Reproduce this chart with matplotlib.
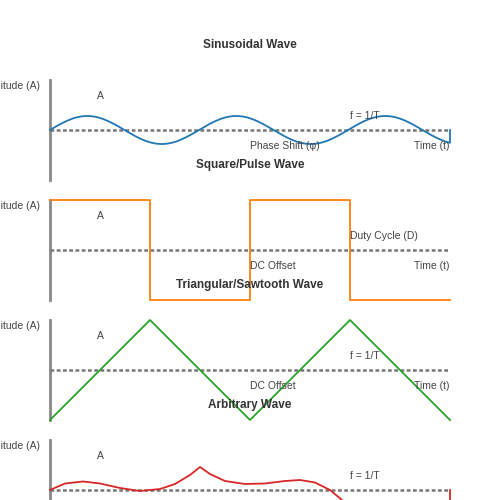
import numpy as np
from matplotlib import pyplot as plt

plt.rcParams['font.family'] = ['Liberation Sans', 'DejaVu Sans']

titles = ["Sinusoidal Wave", "Square/Pulse Wave", "Triangular/Sawtooth Wave", "Arbitrary Wave"]
colors = ["#1f77b4", "#ff7f0e", "#2ca02c", "#d62728"]
top_labels = ["f = 1/T", "Duty Cycle (D)", "f = 1/T", "f = 1/T"]
mid_labels = ["Phase Shift (φ)", "DC Offset", "DC Offset", ""]

# sine wave: time in periods, amplitude
sine_t = np.linspace(0, 8, 161)
sine_y = 0.28 * np.sin(2 * np.pi * sine_t / 2.98)
sine_t = np.append(sine_t, 8)
sine_y = np.append(sine_y, 0)

square_t = [0, 2, 2, 4, 4, 6, 6, 8]
square_y = [1, 1, -1, -1, 1, 1, -1, -1]

tri_t = [0, 2, 4, 6, 8]
tri_y = [-1, 1, -1, 1, -1]

arb_t = [0, 0.3, 0.66, 1.0, 1.4, 1.8, 2.2, 2.5, 2.8, 3.0, 3.2, 3.5, 3.9, 4.3, 4.7, 5.0, 5.3, 5.6, 5.9, 6.2, 6.6, 7.0, 7.4, 7.8, 8.0, 8.0]
arb_y = [0, 0.13, 0.17, 0.13, 0.04, -0.02, 0.02, 0.12, 0.3, 0.46, 0.32, 0.18, 0.12, 0.13, 0.18, 0.2, 0.15, 0.0, -0.25, -0.5, -0.42, -0.45, -0.55, -0.7, -0.65, 0]

waves = [(sine_t, sine_y), (square_t, square_y), (tri_t, tri_y), (arb_t, arb_y)]

fig = plt.figure(figsize=(5, 5), dpi=100)
for i, (t, y) in enumerate(waves):
    bottom = 1 - (180 + 120 * i) / 500
    ax = fig.add_axes([0.1, bottom, 0.8, 0.2])
    ax.set_xlim(0, 8)
    ax.set_ylim(-1, 1)
    ax.axis('off')
    ax.plot([0, 0], [-1, 1], color='#888888', lw=2, clip_on=False)
    ax.plot([0, 8], [0, 0], color='#777777', lw=1.8, ls=(0, (1.5, 1)))
    ax.plot(t, y, color=colors[i], lw=1.3, clip_on=False)
    ax.text(0.5, 1.35, titles[i], transform=ax.transAxes, ha='center', va='center',
            fontsize=8.5, fontweight='bold', color='#333333')
    ax.text(-0.025, 0.94, "Amplitude (A)", transform=ax.transAxes, ha='right', va='center',
            fontsize=7.5, color='#444444')
    ax.text(0.125, 0.84, "A", transform=ax.transAxes, ha='center', va='center',
            fontsize=7.5, color='#444444')
    ax.text(0.75, 0.64, top_labels[i], transform=ax.transAxes, ha='left', va='center',
            fontsize=7.5, color='#444444')
    ax.text(0.5, 0.34, mid_labels[i], transform=ax.transAxes, ha='left', va='center',
            fontsize=7.5, color='#444444')
    if i < 3:
        ax.text(1.0, 0.34, "Time (t)", transform=ax.transAxes, ha='right', va='center',
                fontsize=7.5, color='#444444')

plt.savefig("out.png", dpi=100)
